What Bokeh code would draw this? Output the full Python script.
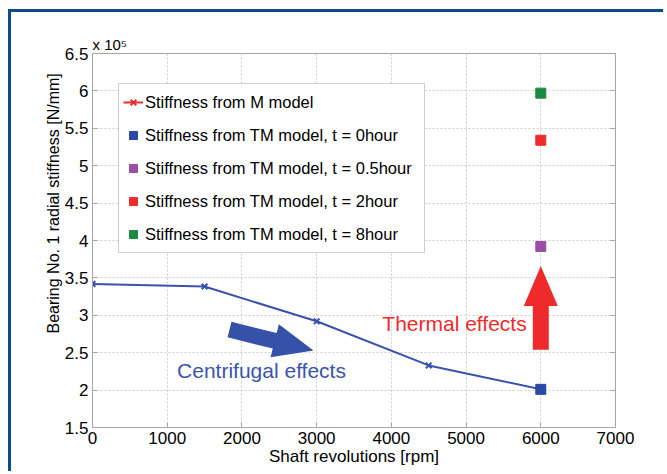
import math
from bokeh.plotting import figure
from bokeh.models import (Range1d, FixedTicker, Legend, LegendItem, Title,
                          LinearAxis, CustomJSTickFormatter)
from bokeh.core.properties import value
from bokeh.embed import file_html
from bokeh.resources import INLINE

# ---------------- data ----------------
speeds = [0, 1500, 3000, 4500, 6000]                 # rpm
stiffness_m = [3.42, 3.385, 2.92, 2.33, 2.01]        # x 1e5 N/mm (M model)

tm_speed = [6000]
tm_labels = ["Stiffness from TM model, t = 0hour",
             "Stiffness from TM model, t = 0.5hour",
             "Stiffness from TM model, t = 2hour",
             "Stiffness from TM model, t = 8hour"]
tm_values = [2.01, 3.92, 5.34, 5.97]                 # x 1e5 N/mm
m_label = "Stiffness from M model"

x_ticks = [0, 1000, 2000, 3000, 4000, 5000, 6000, 7000]
y_ticks = [1.5, 2, 2.5, 3, 3.5, 4, 4.5, 5, 5.5, 6, 6.5]
y_tick_labels = ["1.5", "2", "2.5", "3", "3.5", "4", "4.5", "5", "5.5", "6", "6.5"]

x_title = "Shaft revolutions [rpm]"
y_title = "Bearing No. 1 radial stiffness [N/mm]"
exponent_text = "x 10\u2075"

# annotations (data coordinates)
note_texts = ["Centrifugal effects", "Thermal effects"]
note_x = [2262, 4845]
note_y = [2.262, 2.89]
arrow_tail_x = [1834, 6000]
arrow_tail_y = [2.81, 2.54]
arrow_tip_x = [2958, 6000]
arrow_tip_y = [2.529, 3.66]

# ---------------- style ----------------
FONT = "Liberation Sans"
LINE_BLUE = "#3a52ac"
TM_COLORS = ["#2b48a2", "#9b4ea6", "#ee2c2c", "#1c8b42"]
M_LEGEND_RED = "#ee2c2c"
NOTE_COLORS = ["#3a55aa", "#ee2b2b"]
ARROW_COLORS = ["#3551a8", "#ee2a2a"]
AXIS_GREY = "#a6a6a6"
FRAME_BLUE = "#0d4a8b"

FW, FH = 523, 374
X0, X1 = 0, 7000
Y0, Y1 = 1.5, 6.5

p = figure(frame_width=FW, frame_height=FH,
           x_range=Range1d(X0, X1), y_range=Range1d(Y0, Y1),
           output_backend="svg", toolbar_location=None,
           min_border_left=81, min_border_top=41,
           min_border_right=48, min_border_bottom=44)
p.border_fill_color = "white"
p.background_fill_color = "white"
p.outline_line_color = AXIS_GREY
# page frame: top and left edges only
p.styles = {
    "margin-left": "8px",
    "margin-top": "9px",
    "border-top": f"3px solid {FRAME_BLUE}",
    "border-left": f"3px solid {FRAME_BLUE}",
    "box-sizing": "content-box",
}

xt = FixedTicker(ticks=x_ticks)
yt = FixedTicker(ticks=y_ticks)

for ax in p.xaxis + p.yaxis:
    ax.axis_line_color = AXIS_GREY
    ax.major_tick_line_color = AXIS_GREY
    ax.major_tick_in = 5
    ax.major_tick_out = 0
    ax.minor_tick_line_color = None
    ax.major_label_text_font = FONT
    ax.major_label_text_font_size = "17px"
    ax.major_label_text_color = "black"
    ax.axis_label_text_font = FONT
    ax.axis_label_text_font_style = "normal"
    ax.axis_label_text_color = "black"

p.xaxis.ticker = xt
p.yaxis.ticker = yt
p.yaxis.major_label_overrides = {t: s for t, s in zip(y_ticks, y_tick_labels)}
p.xaxis.axis_label = x_title
p.xaxis.axis_label_text_font_size = "17px"
p.xaxis.major_label_standoff = 4
p.xaxis.axis_label_standoff = 0
p.yaxis.major_label_standoff = 4

# y title as a side title so it can sit where the original has it
p.add_layout(Title(text=y_title, align="left", offset=94, standoff=0,
                   vertical_align="bottom",
                   text_font=FONT, text_font_size="16px",
                   text_font_style="normal", text_color="black"), "left")

# exponent above the y axis
p.title.text = exponent_text
p.title.align = "left"
p.title.offset = 0
p.title.standoff = 1
p.title.text_font = FONT
p.title.text_font_size = "15px"
p.title.text_font_style = "normal"
p.title.text_color = "black"

# box ticks on the right (MATLAB style)
blank = CustomJSTickFormatter(code="return ''")
rax = LinearAxis(ticker=yt, formatter=blank)
rax.axis_line_color = AXIS_GREY
rax.major_tick_line_color = AXIS_GREY
rax.major_tick_in = 5
rax.major_tick_out = 0
rax.minor_tick_line_color = None
rax.major_label_standoff = 0
p.add_layout(rax, "right")

for g, tk in ((p.xgrid, xt), (p.ygrid, yt)):
    g.ticker = tk
    g.grid_line_color = "#cdcdcd"
    g.grid_line_dash = "2 2"
    g.grid_line_width = 1

# ---------------- arrows (fat block arrows) ----------------
sx = FW / (X1 - X0)   # px per rpm
sy = FH / (Y1 - Y0)   # px per unit
SHAFT_W, HEAD_W, HEAD_L = 16, 34, 40
arrow_xs, arrow_ys = [], []
for tx, ty, hx, hy in zip(arrow_tail_x, arrow_tail_y, arrow_tip_x, arrow_tip_y):
    ax_, ay_ = tx * sx, ty * sy
    bx_, by_ = hx * sx, hy * sy
    L = math.hypot(bx_ - ax_, by_ - ay_)
    ux, uy = (bx_ - ax_) / L, (by_ - ay_) / L
    nx, ny = -uy, ux
    cx, cy = bx_ - ux * HEAD_L, by_ - uy * HEAD_L
    pts = [(ax_ + nx * SHAFT_W / 2, ay_ + ny * SHAFT_W / 2),
           (cx + nx * SHAFT_W / 2, cy + ny * SHAFT_W / 2),
           (cx + nx * HEAD_W / 2, cy + ny * HEAD_W / 2),
           (bx_, by_),
           (cx - nx * HEAD_W / 2, cy - ny * HEAD_W / 2),
           (cx - nx * SHAFT_W / 2, cy - ny * SHAFT_W / 2),
           (ax_ - nx * SHAFT_W / 2, ay_ - ny * SHAFT_W / 2)]
    arrow_xs.append([q[0] / sx for q in pts])
    arrow_ys.append([q[1] / sy for q in pts])
p.patches(arrow_xs, arrow_ys, fill_color=ARROW_COLORS, line_color=None)

# ---------------- data marks ----------------
p.line(speeds, stiffness_m, line_color=LINE_BLUE, line_width=2)
p.scatter(speeds, stiffness_m, marker="x", size=8, line_color=LINE_BLUE, line_width=2)

# legend-only renderers for M model (drawn red in the original legend)
nan = float("nan")
leg_line = p.line([nan], [nan], line_color=M_LEGEND_RED, line_width=2)
leg_x = p.scatter([nan], [nan], marker="x", size=8, line_color=M_LEGEND_RED, line_width=2)

items = [LegendItem(label=m_label, renderers=[leg_line, leg_x])]
for lab, val, col in zip(tm_labels, tm_values, TM_COLORS):
    r = p.scatter(tm_speed, [val], marker="square", size=10,
                  fill_color=col, line_color=col)
    items.append(LegendItem(label=lab, renderers=[r]))

# annotation texts
p.text(note_x, note_y, text=note_texts, text_color=NOTE_COLORS,
       text_font=value(FONT), text_font_size="21px",
       text_align="center", text_baseline="middle")

legend = Legend(items=items, location=(26, 174), margin=0, padding=4,
                spacing=5, glyph_width=20, glyph_height=28, label_height=28,
                label_width=275, label_standoff=2,
                label_text_font=FONT, label_text_font_size="16.5px",
                label_text_color="black",
                border_line_color="#a0a0a0", border_line_width=1,
                background_fill_color="white", background_fill_alpha=1)
p.add_layout(legend, "center")

open("out.html", "w").write(file_html(p, INLINE))
